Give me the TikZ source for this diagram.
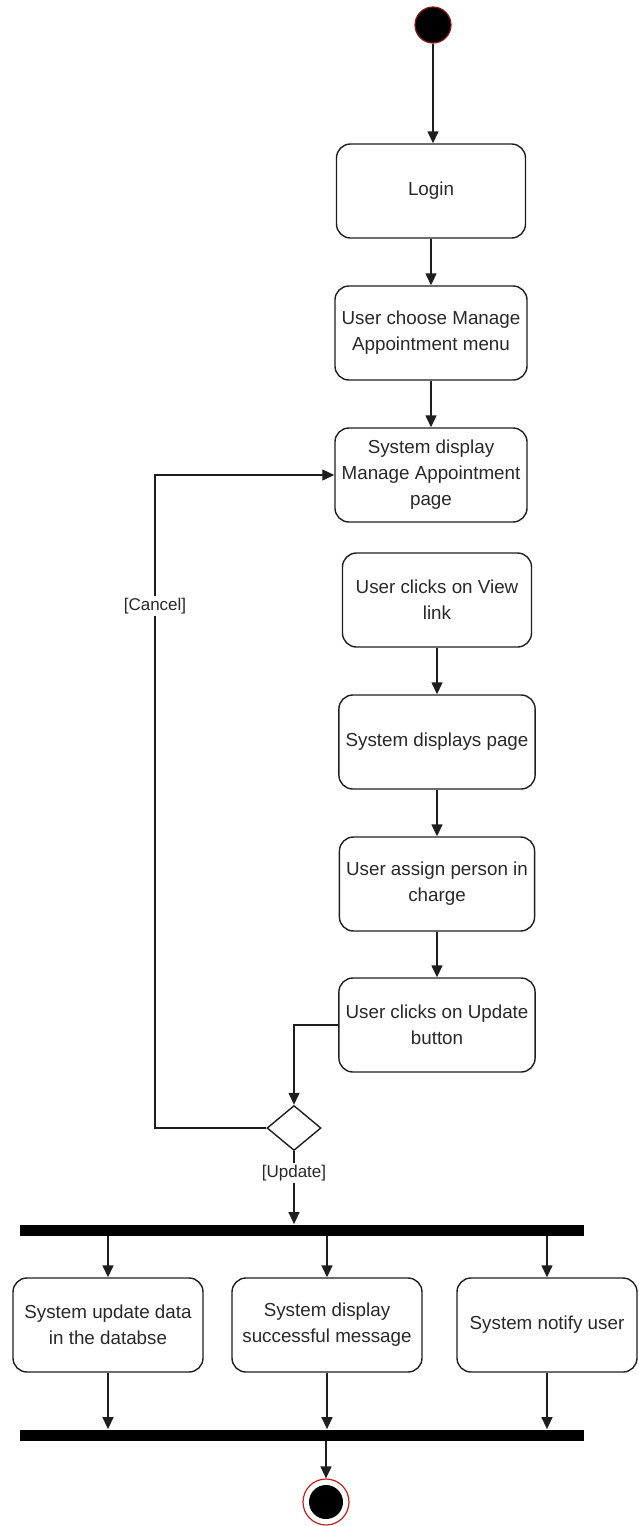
\documentclass[tikz,border=0pt]{standalone}
\usepackage{fontspec}
\setmainfont{Liberation Sans}
\usepackage{xcolor}
\usepackage{tikz}
\usetikzlibrary{shapes.geometric, positioning, arrows.meta}
\definecolor{ADLine}{RGB}{30,30,30}
\definecolor{ADRed}{RGB}{200,30,30}
\definecolor{ADText}{RGB}{40,40,40}

\begin{document}
\begin{tikzpicture}[x=0.5pt, y=-0.5pt,
      abox/.style={rectangle, rounded corners=7pt, draw=ADLine, line width=0.7pt,
                   minimum width=94.5pt, minimum height=47pt, align=center,
                   text=ADText, font=\fontsize{9.4}{13}\selectfont},
      bar/.style={rectangle, fill=black, minimum width=282pt, minimum height=5.5pt,
                  inner sep=0pt},
      guard/.style={fill=white, inner sep=1pt, text=ADText,
                    font=\fontsize{8.5}{10}\selectfont},
      arr/.style={-{Triangle[length=6pt, width=5.5pt]}, draw=ADLine, line width=0.7pt}
    ]
    \useasboundingbox (0,0) rectangle (638,1526);

    \node[circle, fill=black, draw=ADRed!70!black, line width=0.6pt,
          minimum size=18pt, inner sep=0pt] (start) at (433,25) {};

    \node[abox] (login)   at (431,191)  {Login};
    \node[abox] (choose)  at (431,333)  {User choose Manage\\Appointment menu};
    \node[abox] (sysdisp) at (431,475)  {System display\\Manage Appointment\\page};

    \node[abox] (view)    at (437,600)  {User clicks on View\\link};
    \node[abox] (syspage) at (437,742)  {System displays page};
    \node[abox] (assign)  at (437,884)  {User assign person in\\charge};
    \node[abox] (update)  at (437,1025) {User clicks on Update\\button};

    \node[diamond, draw=ADLine, line width=0.7pt, fill=white, minimum width=27pt,
          minimum height=22.5pt, inner sep=0pt] (dec) at (294,1128) {};

    \node[bar] (fork) at (302,1230) {};
    \node[abox, minimum width=95pt]  (db)     at (108,1325) {System update data\\in the databse};
    \node[abox, minimum width=95pt]  (msg)    at (327,1325) {System display\\successful message};
    \node[abox, minimum width=90pt]  (notify) at (547,1325) {System notify user};
    \node[bar] (join) at (302,1435) {};

    \node[circle, draw=ADRed, line width=0.6pt, minimum size=23pt, inner sep=0pt] (end) at (326,1502) {};
    \fill[black] (end.center) circle (8.5pt);

    \draw[arr] (start) -- (start |- login.north);
    \draw[arr] (login) -- (choose);
    \draw[arr] (choose) -- (sysdisp);
    \draw[arr] (view) -- (syspage);
    \draw[arr] (syspage) -- (assign);
    \draw[arr] (assign) -- (update);

    \draw[arr] (update.west) -| (dec.north);
    \coordinate (back) at (155,1128);
    \draw[arr] (dec.west) -- (back) |- (sysdisp.west)
          node[guard, pos=0.4] {[Cancel]};
    \draw[arr] (dec.south) -- (dec.south |- fork.north)
          node[guard, pos=0.3] {[Update]};

    \foreach \b in {db, msg, notify}{
      \draw[arr] (fork.south -| \b.north) -- (\b.north);
      \draw[arr] (\b.south) -- (\b.south |- join.north);
    }
    \draw[arr] (end |- join.south) -- (end.north);
  \end{tikzpicture}
\end{document}
